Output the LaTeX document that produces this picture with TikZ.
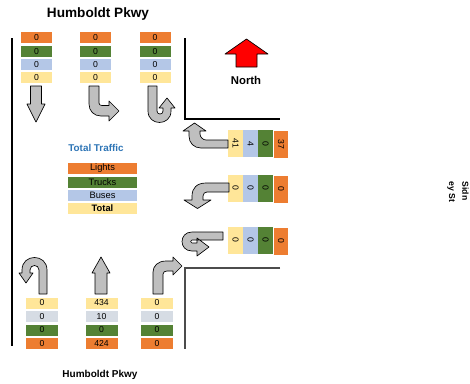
\documentclass[tikz,border=0pt]{standalone}
\usepackage{fontspec}
\setmainfont{Liberation Sans}
\usepackage{xcolor}
\usetikzlibrary{positioning}

\definecolor{lightsc}{HTML}{ED7D31}
\definecolor{trucksc}{HTML}{548235}
\definecolor{busesc}{HTML}{B4C7E7}
\definecolor{totalc}{HTML}{FFE699}
\definecolor{pedc}{HTML}{D6DCE4}
\definecolor{arrowc}{HTML}{BFBFBF}
\definecolor{titlec}{HTML}{2E75B6}

\tikzset{
  cell/.style={minimum width=23.25pt, minimum height=8.25pt, inner sep=0pt,
    font=\fontsize{6.5}{7}\selectfont},
  vcell/.style={cell, rotate=-90, minimum width=20.25pt, minimum height=11.25pt},
  keycell/.style={cell, minimum width=51.75pt, font=\fontsize{7}{8}\selectfont},
  mvarrow/.style={draw=black, fill=arrowc, line width=0.5pt, line join=round},
  road/.style={line width=0.8pt},
}

\begin{document}
\begin{tikzpicture}[x=0.75pt,y=-0.75pt]
	\useasboundingbox (0,0) rectangle (470,383);
	
	% street names
	\node[font=\bfseries\fontsize{10.2}{12}\selectfont] (top) at (98,13.5) {Humboldt Pkwy};
	\node[font=\bfseries\fontsize{7.5}{9}\selectfont] (bottom) at (100,375) {Humboldt Pkwy};
	\node[font=\bfseries\fontsize{6.5}{10}\selectfont, rotate=-90, align=left] (side) at (458,192) {Sidn\\ey St};
	
	% road edges
	\draw[road] (12,38) -- (12,346);
	\draw[road] (185,38) -- (185,119) -- (280,119);
	\draw[road, black!70] (280,268) -- (185,268) -- (185,349);
	
	% north
	\filldraw[mvarrow, fill=red] (236,67) -- (236,54) -- (225,54) -- (246.5,39) -- (268,54) -- (257,54) -- (257,67) -- cycle;
	\node[font=\bfseries\fontsize{8.5}{10}\selectfont] (north) at (246,80) {North};
	
	% top approach
	\foreach \cx/\nm in {36.5/tl,95.5/tc,155/tr} {
		\node[cell, fill=lightsc] (\nm1) at (\cx,37.5) {0};
		\node[cell, fill=trucksc] (\nm2) at (\cx,51.5) {0};
		\node[cell, fill=busesc] (\nm3) at (\cx,64.5) {0};
		\node[cell, fill=totalc] (\nm4) at (\cx,77.5) {0};
	}
	\filldraw[mvarrow] (30.5,86) -- (41.5,86) -- (41.5,104) -- (45,104) -- (36,122) -- (27,104) -- (30.5,104) -- cycle;
	\filldraw[mvarrow] (89,86) -- (89,104) .. controls (89,111) and (94,116) .. (101,116) -- (109,116) -- (109,121) -- (119,111) -- (109,101) -- (109,105.5) -- (102,105.5) .. controls (100,105.5) and (99,104.5) .. (99,103) -- (99,86) -- cycle;
	\filldraw[mvarrow] (148,86) -- (148,111) .. controls (148,126.3) and (171,126.3) .. (171,111) -- (171,108) -- (175,108) -- (167,98) -- (159,108) -- (163,108) -- (163,111) .. controls (163,115) and (157,115) .. (157,111) -- (157,86) -- cycle;
	
	% east approach
	\foreach \cy/\nm/\a/\b/\c/\d in {143.5/ra/41/4/0/37, 188/rb/0/0/0/0, 240/rc/0/0/0/0} {
		\node[vcell, fill=totalc] (\nm4) at (235.5,\cy) {\a};
		\node[vcell, fill=busesc] (\nm3) at (250.5,\cy) {\b};
		\node[vcell, fill=trucksc] (\nm2) at (265.5,\cy) {\c};
		\node[vcell, fill=lightsc, minimum height=10.5pt] (\nm1) at (281,\cy+1) {\d};
	}
	\filldraw[mvarrow] (228,140) -- (206,140) .. controls (203,140) and (200,137) .. (200,134) -- (200,131) -- (206,131) -- (194.5,123) -- (183,131) -- (189,131) -- (189,136) .. controls (189,143) and (194,148) .. (201,148) -- (228,148) -- cycle;
	\filldraw[mvarrow] (229,183) -- (206,183) .. controls (197,183) and (192,188) .. (192,196) -- (192,200) -- (184,200) -- (197.5,208.5) -- (211,200) -- (203,200) -- (203,196) .. controls (203,193.5) and (205,192) .. (207,192) -- (229,192) -- cycle;
	\filldraw[mvarrow] (223,232) -- (192,232) .. controls (178.7,232) and (178.7,251) .. (192,251) -- (197,251) -- (197,256) -- (209,247) -- (197,238) -- (197,243) -- (192,243) .. controls (190,243) and (190,240) .. (192,240) -- (223,240) -- cycle;
	
	% legend
	\node[font=\bfseries\fontsize{7.4}{9}\selectfont, text=titlec] (ttl) at (96,148) {Total Traffic};
	\node[keycell, fill=lightsc] (k1) at (102.5,168.5) {Lights};
	\node[keycell, fill=trucksc] (k2) at (102.5,182.5) {Trucks};
	\node[keycell, fill=busesc] (k3) at (102.5,195.5) {Buses};
	\node[keycell, fill=totalc, font=\bfseries\fontsize{7}{8}\selectfont] (k4) at (102.5,208.5) {Total};
	
	% south approach
	\foreach \cx/\nm/\a/\b/\c/\d in {42/bl/0/0/0/0, 101.5/bc/434/10/0/424, 157/br/0/0/0/0} {
		\node[cell, fill=totalc, minimum width=24pt] (\nm4) at (\cx,303) {\a};
		\node[cell, fill=pedc, minimum width=24pt] (\nm3) at (\cx,316.5) {\b};
		\node[cell, fill=trucksc, minimum width=24pt] (\nm2) at (\cx,330) {\c};
		\node[cell, fill=lightsc, minimum width=24pt] (\nm1) at (\cx,343.5) {\d};
	}
	\filldraw[mvarrow] (39,294) -- (47,294) -- (47,270) .. controls (47,253.3) and (22,253.3) .. (22,270) -- (22,273) -- (19,273) -- (26,283) -- (33,273) -- (30,273) -- (30,270) .. controls (30,264) and (39,264) .. (39,270) -- cycle;
	\filldraw[mvarrow] (95,294) -- (95,273) -- (92,273) -- (101,257) -- (110,273) -- (107,273) -- (107,294) -- cycle;
	\filldraw[mvarrow] (153,294) -- (153,272) .. controls (153,266) and (158,261) .. (166,261) -- (173,261) -- (173,257) -- (182,266) -- (173,275) -- (173,271) -- (167,271) .. controls (165,271) and (163,272) .. (163,274) -- (163,294) -- cycle;
\end{tikzpicture}
\end{document}
